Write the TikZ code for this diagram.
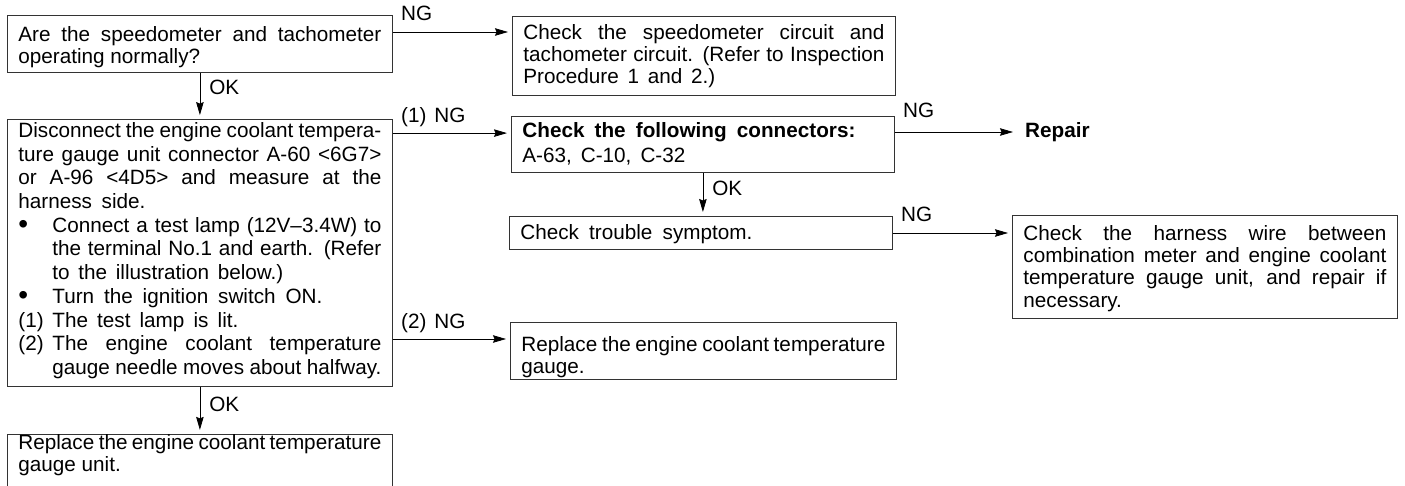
\documentclass[tikz,border=0pt]{standalone}
\usepackage{fontspec}
\setmainfont{Liberation Sans}
\usetikzlibrary{positioning, arrows.meta}

\newcommand\topgap[1]{\rule{0pt}{#1pt}}
\newcommand\botgap[1]{\rule[-#1pt]{0pt}{#1pt}}
\newcommand\stepitem[2]{\par\noindent\hangindent=34pt\hangafter=1\makebox[34pt][l]{#1}#2}
\newcommand\bigdot{\raisebox{-1.5pt}{\scalebox{1.35}{\textbullet}}}

\tikzset{
  box/.style={draw=black!80, line width=0.8pt, anchor=north west, inner xsep=11pt, inner ysep=0pt,
    text width=#1, align=justify, font=\fontsize{20.7}{22.3}\selectfont},
  arr/.style={-{Stealth[length=13pt,width=7.5pt,inset=1.5pt]}, line width=0.8pt, shorten >=4pt},
  lbl/.style={anchor=base west, inner sep=0pt, font=\fontsize{20.7}{22.3}\selectfont},
  nglbl/.style={lbl, xshift=8pt, yshift=#1},
  nglbl/.default=11pt,
  oklbl/.style={lbl, xshift=9pt, yshift=-#1},
  oklbl/.default=22pt
}

\begin{document}
\begin{tikzpicture}[x=1pt, y=-1pt]
\useasboundingbox (0,0) rectangle (1405,486);

% left column
\node[box=363pt] (q1) at (7,15) {\topgap{26}Are the speedometer and tachometer\linebreak operating normally?\botgap{9}};
\node[box=363pt, font=\fontsize{20.7}{23.7}\selectfont, below=46pt of q1.south west, anchor=north west] (main)
  {\topgap{18}Disconnect the engine coolant tempera-\linebreak ture gauge unit connector A-60 <6G7>\linebreak or A-96 <4D5> and measure at the\linebreak \makebox[127pt][s]{harness side.}
  \stepitem{\bigdot}{Connect a test lamp (12V--3.4W) to\linebreak the terminal No.1 and earth. (Refer\linebreak \makebox[231pt][s]{to the illustration below.)}}
  \stepitem{\bigdot}{\makebox[270pt][s]{Turn the ignition switch ON.}}
  \stepitem{(1)}{\makebox[186pt][s]{The test lamp is lit.}}
  \stepitem{(2)}{The engine coolant temperature\linebreak \makebox[329pt][s]{gauge needle moves about halfway.}\botgap{12}}\par};
\node[box=363pt, below=47pt of main.south west, anchor=north west] (unit)
  {\topgap{15}Replace the engine coolant temperature\linebreak gauge unit.\botgap{19}};

% middle column
\node[box=361pt] (spd) at (512,16) {\topgap{23}Check the speedometer circuit and\linebreak tachometer circuit. (Refer to Inspection\linebreak \makebox[192pt][s]{Procedure 1 and 2.)}\botgap{11}};
\node[box=361pt, font=\fontsize{20.7}{25}\selectfont] (conn) at (511,116)
  {\topgap{21}\makebox[333pt][s]{\textbf{Check the following connectors:}}\\ \makebox[163pt][s]{A-63, C-10, C-32}\botgap{10}};
\node[box=361pt] (trb) at (509,216) {\topgap{23}\makebox[232pt][s]{Check trouble symptom.}\botgap{10}};
\node[box=364pt] (gauge) at (510,322) {\topgap{29}Replace the engine coolant temperature\linebreak gauge.\botgap{6}};

% right column
\node[lbl, anchor=west, font=\bfseries\fontsize{20.7}{22.3}\selectfont] (rep) at (1025,132) {Repair};
\node[box=363pt] (hrn) at (1012,215) {\topgap{25}Check the harness wire between\linebreak combination meter and engine coolant\linebreak temperature gauge unit, and repair if\linebreak necessary.\botgap{11}};

% connectors
\coordinate (ng1) at ([yshift=-17pt]q1.north east);
\coordinate (ng2) at ([yshift=-14pt]main.north east);
\coordinate (ng3) at ([yshift=-17pt]gauge.north west);
\coordinate (ng4) at ([yshift=-16pt]conn.north east);
\coordinate (ng5) at ([yshift=-17pt]trb.north east);
\draw[arr] (ng1) node[nglbl]{NG} -- (ng1 -| spd.west);
\draw[arr] (q1.south) node[oklbl=21pt]{OK} -- (main.north);
\draw[arr] (ng2) node[nglbl]{(1)\hspace{8pt}NG} -- (ng2 -| conn.west);
\draw[arr] (ng3 -| main.east) node[nglbl]{(2)\hspace{8pt}NG} -- (ng3);
\draw[arr] (main.south) node[oklbl=25pt]{OK} -- (unit.north);
\draw[arr] (conn.south) node[oklbl=23pt]{OK} -- (conn.south |- trb.north);
\draw[arr, shorten >=12pt] (ng4) node[nglbl=14pt]{NG} -- (ng4 -| rep.west);
\draw[arr] (ng5) node[nglbl]{NG} -- (ng5 -| hrn.west);
\end{tikzpicture}
\end{document}
